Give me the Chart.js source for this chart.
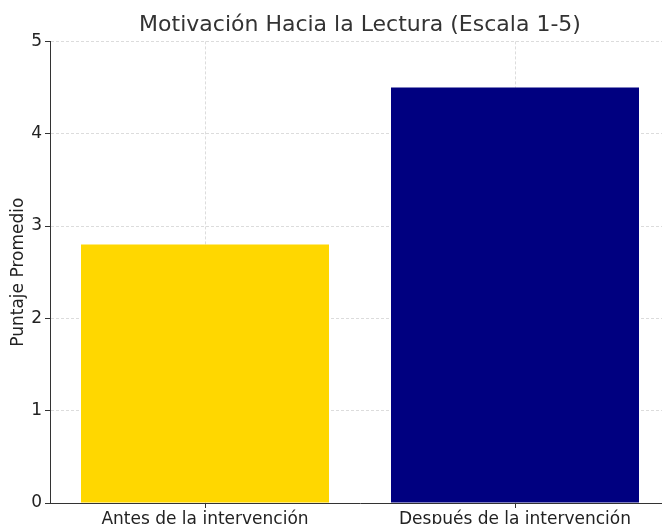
<!DOCTYPE html>
<html>
<head>
<meta charset="utf-8">
<script src="https://cdn.jsdelivr.net/npm/chart.js@4/dist/chart.umd.min.js"></script>
<style>
  html, body { margin: 0; padding: 0; background: #fff; overflow: hidden; }
  canvas { display: block; }
</style>
</head>
<body>
<canvas id="motivChart" width="670" height="531"></canvas>
<script>
// data
const categories = ["Antes de la intervención", "Después de la intervención"];
const scores = [2.8, 4.5];
const barColors = ["#FFD700", "#000080"];
const yMin = 0;
const yMax = 5;
const yStep = 1;

const gridColor = "#d3d3d3";
const axisColor = "#333333";
const textColor = "#222222";
const font = "'DejaVu Sans', sans-serif";

const ctx = document.getElementById("motivChart");
new Chart(ctx, {
  type: "bar",
  data: {
    labels: categories,
    datasets: [
      {
        data: scores,
        backgroundColor: barColors,
        borderWidth: 0,
        barPercentage: 0.8,
        categoryPercentage: 1.0,
      },
    ],
  },
  options: {
    responsive: false,
    animation: false,
    layout: { padding: 0 },
    plugins: {
      legend: { display: false },
      tooltip: { enabled: false },
      title: {
        display: true,
        text: "Motivación Hacia la Lectura (Escala 1-5)",
        fullSize: false,
        color: "#333333",
        font: { family: font, size: 22, weight: "normal" },
        padding: { top: 12, bottom: 3 },
      },
    },
    scales: {
      x: {
        z: 1,
        offset: true,
        grid: {
          offset: false,
          color: gridColor,
          lineWidth: 0.8,
          tickColor: axisColor,
          tickLength: 5,
          tickWidth: 1,
        },
        border: { display: true, color: axisColor, width: 1, dash: [3, 2] },
        ticks: {
          color: textColor,
          padding: 1,
          font: { family: font, size: 17 },
          maxRotation: 0,
        },
        afterFit: function (scale) {
          scale.height = 28;
        },
      },
      y: {
        z: 1,
        min: yMin,
        max: yMax,
        grid: {
          color: gridColor,
          lineWidth: 0.8,
          tickColor: axisColor,
          tickLength: 5,
          tickWidth: 1,
        },
        border: { display: true, color: axisColor, width: 1, dash: [3, 2] },
        ticks: {
          stepSize: yStep,
          color: textColor,
          padding: 3,
          font: { family: font, size: 17 },
        },
        title: {
          display: true,
          text: "Puntaje Promedio",
          color: textColor,
          font: { family: font, size: 17 },
          padding: { top: 8, bottom: 0 },
        },
        afterFit: function (scale) {
          scale.width = 50;
        },
      },
    },
  },
});
</script>
</body>
</html>
